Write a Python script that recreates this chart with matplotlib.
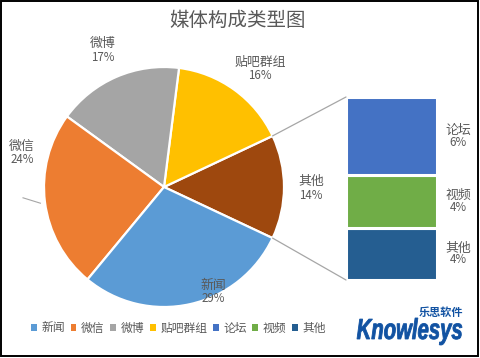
import numpy as np
import matplotlib
matplotlib.use("Agg")
import matplotlib.pyplot as plt
from matplotlib.patches import ConnectionPatch, Patch, PathPatch, Rectangle
from matplotlib.textpath import TextPath
from matplotlib.font_manager import FontProperties
from matplotlib.transforms import Affine2D, IdentityTransform

plt.rcParams['font.family'] = ['Noto Sans CJK SC', 'DejaVu Sans']

# ---------------- data ----------------
title = "媒体构成类型图"
pie_labels = ["其他", "贴吧群组", "微博", "微信", "新闻"]
pie_values = [14, 16, 17, 24, 29]
pie_colors = ["#9E480E", "#FFC000", "#A5A5A5", "#ED7D31", "#5B9BD5"]

bar_labels = ["其他", "视频", "论坛"]          # bottom to top
bar_values = [4, 4, 6]
bar_colors = ["#255E91", "#70AD47", "#4472C4"]

legend_labels = ["新闻", "微信", "微博", "贴吧群组", "论坛", "视频", "其他"]
legend_colors = ["#5B9BD5", "#ED7D31", "#A5A5A5", "#FFC000", "#4472C4", "#70AD47", "#255E91"]

# label positions (layout, in pie units)
pie_label_pos = {"其他": (1.225, -0.01), "贴吧群组": (0.80, 0.985), "微博": (-0.51, 1.14),
                 "微信": (-1.185, 0.285), "新闻": (0.41, -0.875)}

TXT = "#595959"
NAME_FS = 9.3
PCT_FS = 8.3
W, H = 481, 358
fig = plt.figure(figsize=(W / 100, H / 100), dpi=100)
fig.patch.set_facecolor("white")

# pie axes
cx, cy, R = 164, 187, 120
ax = fig.add_axes([(cx - R) / W, (H - cy - R) / H, 2 * R / W, 2 * R / H])
start = -pie_values[0] / 2 * 3.6
wedges, _ = ax.pie(pie_values, colors=pie_colors, startangle=start, counterclock=True,
                   radius=1, wedgeprops=dict(edgecolor="white", linewidth=1.6))
ax.set_xlim(-1, 1)
ax.set_ylim(-1, 1)
ax.set_aspect("equal")
ax.axis("off")

total = sum(pie_values)
for lab, val in zip(pie_labels, pie_values):
    x, y = pie_label_pos[lab]
    ax.text(x, y + 0.055, lab, ha="center", va="center", fontsize=NAME_FS, color=TXT)
    ax.text(x, y - 0.058, f"{round(val / total * 100)}%", ha="center", va="center",
            fontsize=PCT_FS, color=TXT)

# leader line for 微信
ax.plot([-1.175, -1.03], [-0.09, -0.135], color="#A6A6A6", lw=0.8, clip_on=False)

# bar axes
bx0, bx1, by0, by1 = 346, 437, 97, 280
ax2 = fig.add_axes([bx0 / W, (H - by1) / H, (bx1 - bx0) / W, (by1 - by0) / H])
bottom = 0
for lab, val, col in zip(bar_labels, bar_values, bar_colors):
    ax2.bar(0, val, bottom=bottom, width=1, color=col, edgecolor="white", linewidth=2.2)
    ax2.text(0.73, bottom + val / 2 + 0.45, lab, ha="center", va="center",
             fontsize=NAME_FS, color=TXT, clip_on=False)
    ax2.text(0.73, bottom + val / 2 - 0.45, f"{val}%", ha="center", va="center",
             fontsize=PCT_FS, color=TXT, clip_on=False)
    bottom += val
ax2.set_xlim(-0.5, 0.5)
ax2.set_ylim(0, sum(bar_values))
ax2.axis("off")

# connectors
theta = np.deg2rad(pie_values[0] / 2 * 3.6)
for ypt, sgn in [(sum(bar_values), 1), (0, -1)]:
    con = ConnectionPatch(xyA=(-0.5, ypt), coordsA=ax2.transData,
                          xyB=(np.cos(theta), sgn * np.sin(theta)), coordsB=ax.transData,
                          color="#A6A6A6", lw=0.9)
    fig.add_artist(con)

# title
fig.text(238 / W, 1 - 20 / H, title, ha="center", va="center", fontsize=14, color=TXT)

# legend
handles = [Patch(facecolor=c, edgecolor="none") for c in legend_colors]
fig.legend(handles, legend_labels, loc="center", bbox_to_anchor=(178.5 / W, 1 - 328 / H),
           ncol=7, frameon=False, fontsize=8.5, handlelength=0.5, handleheight=0.5,
           handletextpad=0.4, columnspacing=0.46, labelcolor=TXT, borderpad=0)

# logo
fp = FontProperties(family="Liberation Sans", weight="bold", style="italic")
tp = TextPath((0, 0), "Knowlesys", size=10, prop=fp)
ext = tp.get_extents()
lx0, lx1, ly_top, ly_bot = 357, 462, 318, 345
sx = (lx1 - lx0) / ext.width
sy = (ly_bot - ly_top) / ext.height
tr = Affine2D().translate(-ext.x0, -ext.y0).scale(sx, sy).translate(lx0, H - ly_bot)
logo = PathPatch(tr.transform_path(tp), facecolor="#1152A2", edgecolor="#1152A2", lw=0.6)
logo.set_transform(IdentityTransform())
fig.add_artist(logo)
fig.text(441 / W, 1 - 312 / H, "乐思软件", ha="center", va="center", fontsize=8,
         fontweight="bold", color="#1152A2")

# border
fig.add_artist(Rectangle((0.5 / W, 2.5 / H), 477.5 / W, 355 / H, transform=fig.transFigure,
                         fill=False, edgecolor="black", linewidth=1.4))

fig.savefig("out.png", dpi=100, facecolor="white")
